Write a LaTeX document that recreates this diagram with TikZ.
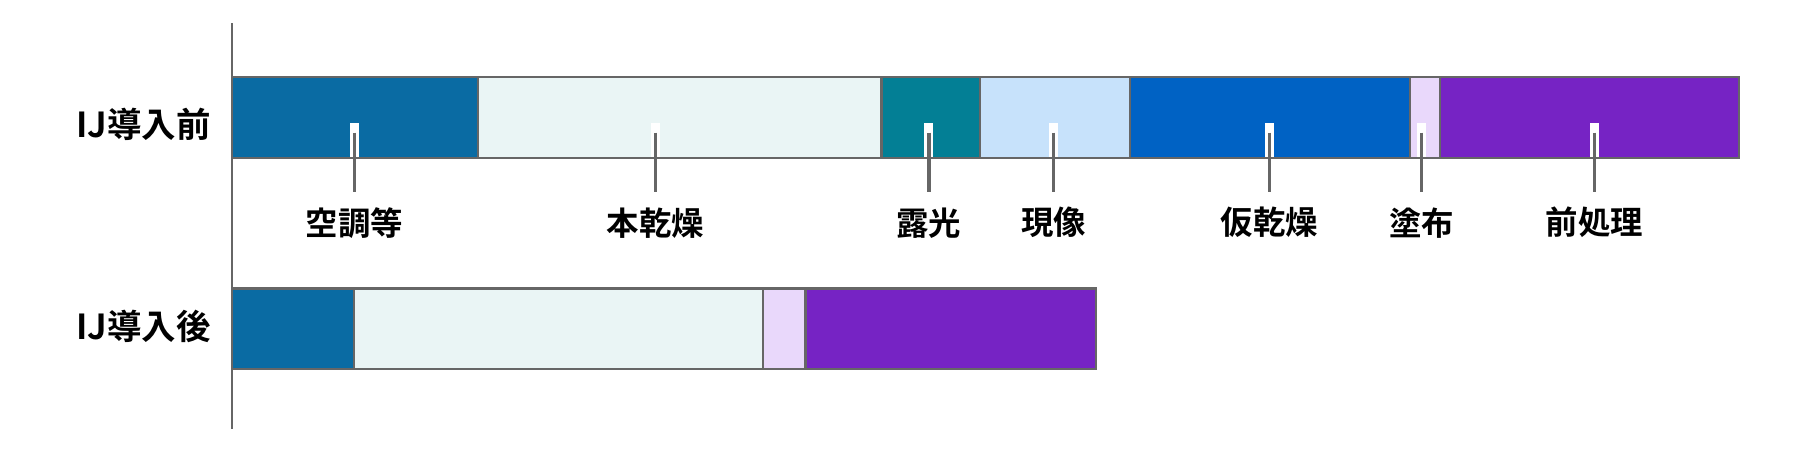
\documentclass[tikz,border=0pt]{standalone}
\usepackage{fontspec}
\newfontfamily\cjk[BoldFont={Noto Sans CJK JP Bold}]{Noto Sans CJK JP}
\definecolor{aircon}{HTML}{0A6BA3}
\definecolor{maindry}{HTML}{EAF5F5}
\definecolor{expose}{HTML}{037F95}
\definecolor{develop}{HTML}{C7E2FB}
\definecolor{predry}{HTML}{0062C4}
\definecolor{coat}{HTML}{E9D8FB}
\definecolor{pretreat}{HTML}{7623C4}
\definecolor{edgegray}{HTML}{666666}
\begin{document}
\begin{tikzpicture}[
            x = 0.02cm, y = -0.02cm, % one unit per pixel
            seg/.style = {draw=edgegray, line width=1.1pt},
            tick/.style = {line width=1.7pt, draw=edgegray},
            lbl/.style = {font=\cjk\bfseries\fontsize{16}{18}\selectfont, inner sep=0pt},
            row/.style = {font=\cjk\bfseries\fontsize{17}{19}\selectfont, inner sep=0pt, anchor=east}
        ]
\useasboundingbox (0,0) rectangle (1560,392);
\draw[edgegray, line width=0.8pt] (201,20) -- (201,372);
% before
\foreach \a/\b/\c in {201/414/aircon, 414/764/maindry, 764/849/expose, 849/979/develop,
                      979/1222/predry, 1222/1248/coat, 1248/1507/pretreat}
  \draw[seg, fill=\c] (\a,67) rectangle (\b,137);
% after
\foreach \a/\b/\c in {201/307/aircon, 307/661/maindry, 661/698/coat, 698/950/pretreat}
  \draw[seg, fill=\c] (\a,250) rectangle (\b,320);
\node[row] (before) at (183,108) {IJ導入前};
\node[row] (after) at (183,283) {IJ導入後};
% labels with ticks
\foreach \x/\t/\n in {307/空調等/ac, 568/本乾燥/md, 805/露光/ex, 913/現像/dv,
                      1100/仮乾燥/pd, 1232/塗布/ct, 1382/前処理/pt} {
  \node[lbl] (\n) at (\x,193) {\t};
  \coordinate (\n top) at (\x,115);
  \coordinate (\n bot) at (\x,166);
  \draw[white, line width=4.5pt] (\x,107) -- (\x,136);
  \draw[tick] (\n top) -- (\n bot);
}
\end{tikzpicture}
\end{document}
